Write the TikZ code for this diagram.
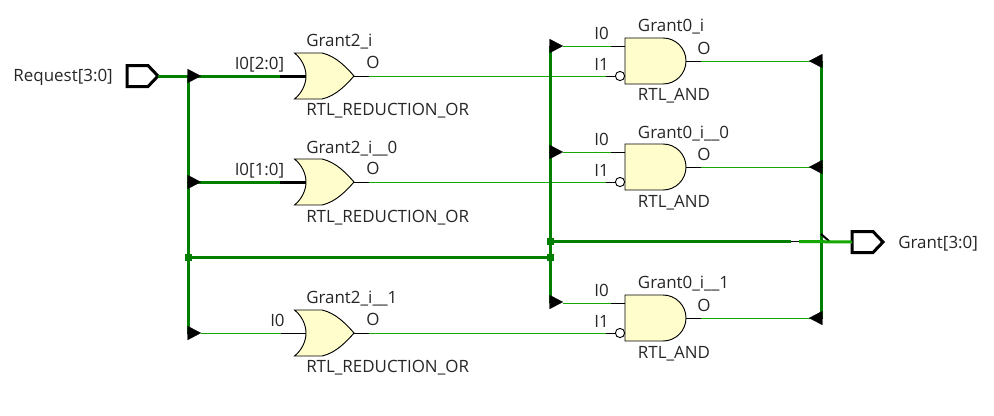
\documentclass[tikz,border=0pt]{standalone}
\usepackage{fontspec}
\setmainfont{Open Sans}
\usepackage{xcolor}
\usetikzlibrary{calc,arrows.meta}
\definecolor{busc}{HTML}{007F00}
\definecolor{netc}{HTML}{14A800}
\definecolor{gatec}{HTML}{FFFDCB}
\tikzset{
  bus/.style={line width=2.25pt,busc},
  net/.style={line width=.6pt,netc},
  lead/.style={line width=.6pt,black},
  buslead/.style={line width=2.25pt,black},
  tap/.style={line width=.1pt,black,-{Triangle[length=10pt,width=10.5pt,fill=black]}},
  lbl/.style={anchor=base west,inner sep=0pt,font=\fontsize{12.7}{14}\selectfont,text=black!85},
  jct/.style={busc,fill=busc},
  orgate/.pic={
    \draw[black,line width=.7pt,fill=gatec] (-0.5,-23) -- (27,-23) .. controls (41,-20) and (52,-8) .. (59,0) .. controls (52,8) and (41,20) .. (27,23) -- (-0.5,23) .. controls (7,17) and (11,8) .. (11,0) .. controls (11,-8) and (7,-17) .. (-0.5,-23) -- cycle;
    \coordinate (-in) at (11,0); \coordinate (-out) at (59,0);
  },
  andgate/.pic={
    \draw[black,line width=.7pt,fill=gatec] (0,-23) -- (38,-23) arc (-90:90:23) -- (0,23) -- cycle;
    \draw[black,line width=.7pt,fill=white] (-5,15) circle (4.6);
    \coordinate (-a) at (0,-15); \coordinate (-b) at (-10,15); \coordinate (-out) at (61,0);
  },
  port/.pic={
    \draw[black,line width=2.25pt,fill=white,miter limit=2] (0,-10.5) -- (21,-10.5) -- (31,0) -- (21,10.5) -- (0,10.5) -- cycle;
    \coordinate (-l) at (0,0); \coordinate (-r) at (31,0);
  }
}
\begin{document}
\begin{tikzpicture}[x=0.75pt,y=-0.75pt]
\useasboundingbox (0,0) rectangle (994,415);
% gates and ports
\pic (req) at (127,76) {port};
\pic (gnt) at (852,242) {port};
\pic (or1) at (295,76) {orgate};
\pic (or2) at (295,182) {orgate};
\pic (or3) at (295,333) {orgate};
\pic (and1) at (625,61) {andgate};
\pic (and2) at (625,167) {andgate};
\pic (and3) at (625,318) {andgate};
% bus corners
\coordinate (lbtop) at (188,76); \coordinate (lbbot) at (188,333); \coordinate (lbj) at (188,257);
\coordinate (mbtop) at (550,46); \coordinate (mbbot) at (550,302); \coordinate (mbj) at (550,257); \coordinate (mbo) at (550,241.5);
\coordinate (rbtop) at (821,61); \coordinate (rbbot) at (821,318); \coordinate (rbo) at (821,241.5);
% nets
\draw[net] ($(or1-out)+(15,0)$) -- ($(and1-b)+(-9,0)$);
\draw[net] ($(or2-out)+(15,0)$) -- ($(and2-b)+(-9,0)$);
\draw[net] ($(or3-out)+(15,0)$) -- ($(and3-b)+(-9,0)$);
\draw[net] (201,333) -- ($(or3-in)+(-25,0)$);
\foreach \g in {and1,and2,and3}{
  \draw[net] ($(\g-out)+(15,0)$) -- ($(\g-out)+(130,0)$);
  \draw[net] ($(\g-a)+(-62,0)$) -- ($(\g-a)+(-14,0)$);
  \draw[lead] ($(\g-a)+(-14,0)$) -- (\g-a);
  \draw[lead] ($(\g-b)+(-9,0)$) -- (\g-b);
  \draw[lead] (\g-out) -- ++(15,0);
}
\foreach \g in {or1,or2,or3}{
  \draw[lead] (\g-out) -- ++(15,0);
}
\draw[lead] ($(or3-in)+(-25,0)$) -- (or3-in);
% buses
\draw[bus] (req-r) -- ($(or1-in)+(-26,0)$);
\draw[bus] (188,182) -- ($(or2-in)+(-26,0)$);
\draw[buslead] ($(or1-in)+(-26,0)$) -- (or1-in);
\draw[buslead] ($(or2-in)+(-26,0)$) -- (or2-in);
\draw[bus] (lbtop) -- (lbbot);
\draw[bus] (mbtop) -- (mbbot);
\draw[bus] (rbtop) -- (rbbot);
\draw[bus] (lbj) -- (mbj);
\draw[bus] (mbo) -- (791,241.5);
\draw[line width=.75pt] (791,241.5) -- (800,241.5);
\draw[line width=1.5pt,black] (821,234) -- (829.5,241.5);
\draw[line width=2.25pt,netc] (799,241.5) -- (gnt-l);
\fill[jct] ($(lbj)+(-3.5,-3.5)$) rectangle ($(lbj)+(3.5,3.5)$);
\fill[jct] ($(mbj)+(-3.5,-3.5)$) rectangle ($(mbj)+(3.5,3.5)$);
\fill[jct] ($(mbo)+(-3.5,-3.5)$) rectangle ($(mbo)+(3.5,3.5)$);
% taps
\draw[tap] (187,76) -- (201,76);
\draw[tap] (187,182) -- (201,182);
\draw[tap] (187,333) -- (201,333);
\draw[tap] (549,46) -- (563,46);
\draw[tap] (549,152) -- (563,152);
\draw[tap] (549,302) -- (563,302);
\draw[tap] (823,61) -- (809,61);
\draw[tap] (823,167) -- (809,167);
\draw[tap] (823,318) -- (809,318);
% labels
\node[lbl] (reqlbl) at (13.2,81.7) {Request[3:0]};
\node[lbl] (gntlbl) at (898,248) {Grant[3:0]};
\node[lbl] (or1name) at (306,46.7) {Grant2\_i};
\node[lbl] (or1pin) at (234.5,69.3) {I0[2:0]};
\node[lbl] (or1o) at (366,68) {O};
\node[lbl] (or1type) at (306,115.7) {RTL\_REDUCTION\_OR};
\node[lbl] (or2name) at (306,153) {Grant2\_i\_\_0};
\node[lbl] (or2pin) at (234.5,175) {I0[1:0]};
\node[lbl] (or2o) at (366,174) {O};
\node[lbl] (or2type) at (306,222) {RTL\_REDUCTION\_OR};
\node[lbl] (or3name) at (306,303) {Grant2\_i\_\_1};
\node[lbl] (or3pin) at (270,326) {I0};
\node[lbl] (or3o) at (366,325) {O};
\node[lbl] (or3type) at (306,372) {RTL\_REDUCTION\_OR};
\node[lbl] (and1name) at (637.7,31.7) {Grant0\_i};
\node[lbl] (and1a) at (594,39) {I0};
\node[lbl] (and1b) at (594,70) {I1};
\node[lbl] (and1o) at (697,54) {O};
\node[lbl] (and1type) at (637.7,100.7) {RTL\_AND};
\node[lbl] (and2name) at (637.7,138) {Grant0\_i\_\_0};
\node[lbl] (and2a) at (594,145) {I0};
\node[lbl] (and2b) at (594,176) {I1};
\node[lbl] (and2o) at (697,160) {O};
\node[lbl] (and2type) at (637.7,207) {RTL\_AND};
\node[lbl] (and3name) at (637.7,288) {Grant0\_i\_\_1};
\node[lbl] (and3a) at (594,296) {I0};
\node[lbl] (and3b) at (594,327) {I1};
\node[lbl] (and3o) at (697,311) {O};
\node[lbl] (and3type) at (637.7,358) {RTL\_AND};
\end{tikzpicture}
\end{document}
